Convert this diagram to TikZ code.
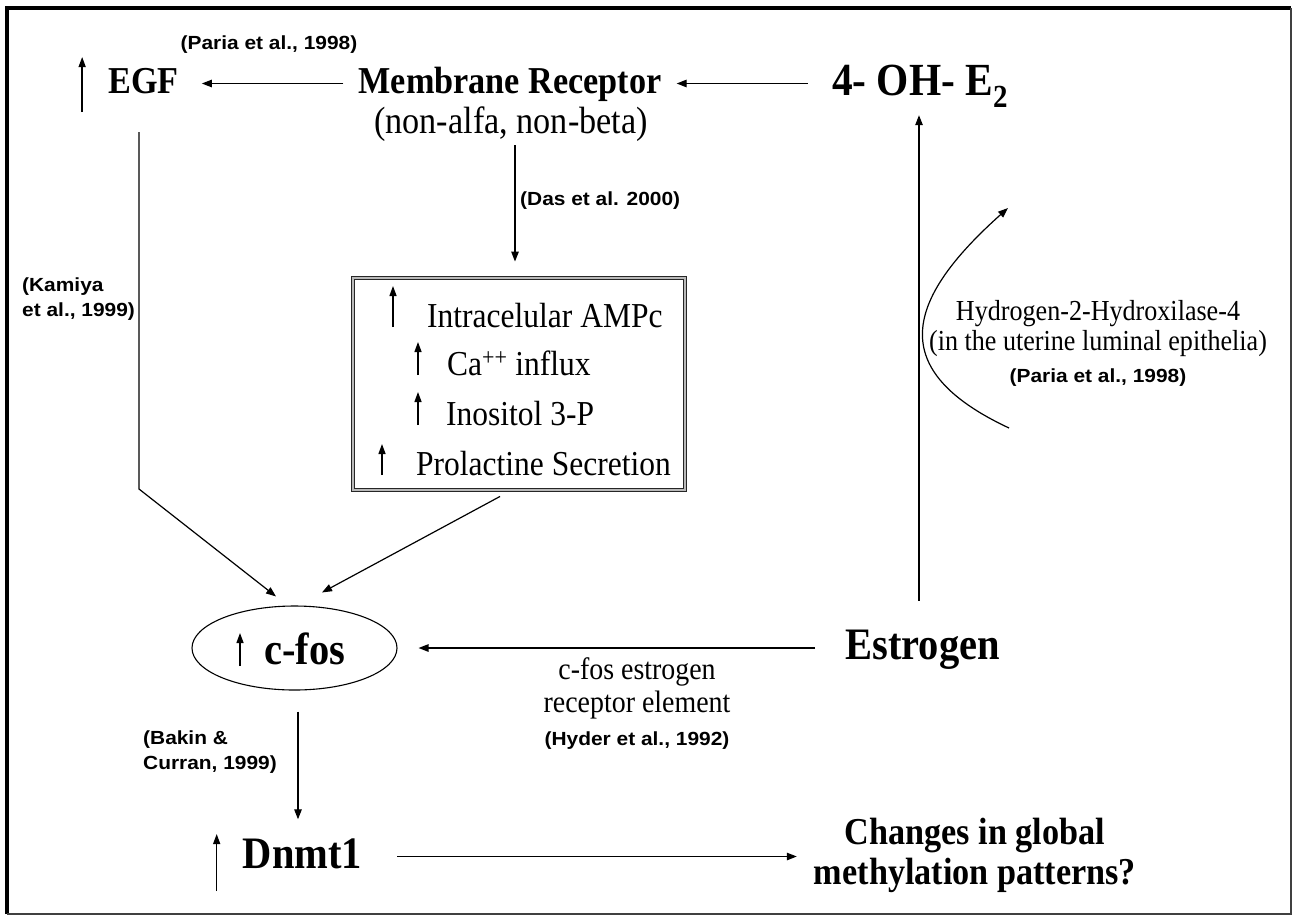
\documentclass[tikz,border=0pt]{standalone}
\usepackage{fontspec}
\setmainfont{Liberation Serif}[FakeStretch=0.9]
\newfontfamily\citefont{Liberation Sans}[FakeStretch=1.1]
\usetikzlibrary{arrows.meta, shapes.geometric, calc, positioning}

\begin{document}
\begin{tikzpicture}[x=1pt, y=-1pt,
		conn/.style={line width=1.2pt, -{Triangle[length=10pt, width=7.5pt]}},
		uparr/.style={line width=1.3pt, -{Triangle[length=10pt, width=7pt]}},
		cite/.style={inner sep=0pt, font=\citefont\bfseries\fontsize{19}{25}\selectfont},
		head/.style={inner sep=0pt, text height=27pt, text depth=8pt, font=\bfseries\fontsize{38}{40}\selectfont},
		sub/.style={inner sep=0pt, text height=27pt, text depth=8pt, font=\fontsize{38}{40}\selectfont},
		big/.style={inner sep=0pt, text height=32pt, text depth=9pt, font=\bfseries\fontsize{45}{48}\selectfont},
		boxtxt/.style={inner sep=0pt, font=\fontsize{35}{40}\selectfont},
		lbl/.style={inner sep=0pt, font=\fontsize{31}{33}\selectfont},
		boxed/.style={draw=black!85, double=gray!55, double distance=2.2pt, line width=0.9pt}]
			\useasboundingbox (0,0) rectangle (1292,916);

			% frame
			\draw[line width=4pt] (7,914) -- (7,8) -- (1291,8);
			\draw[line width=1.5pt, black!75] (7,914) -- (1291,914) -- (1291,8);

			\begin{scope}
				\node[head, anchor=base] (egf) at (143.5,93) {EGF};
				\node[head, anchor=base] (mr) at (510,93) {Membrane Receptor};
				\node[sub, anchor=base] (nab) at (511,133) {(non-alfa, non-beta)};
				\node[big, font=\bfseries\fontsize{46}{48}\selectfont, anchor=base] (oh) at (920,95) {4- OH- E\textsubscript{2}};
				\node[cite, anchor=base] (pariaA) at (269,49) {(Paria et al., 1998)};
				\draw[uparr] ([xshift=-26,yshift=-19]egf.base west) -- ++(0,-55);
			\end{scope}

			\begin{scope}
				\node[boxed, minimum width=332, minimum height=212] (box) at (519,384) {};
				\node[boxtxt, anchor=base west] (amp) at (427,327) {Intracelular AMPc};
				\node[boxtxt, anchor=base west] (ca) at (447,375) {Ca\textsuperscript{++} influx};
				\node[boxtxt, anchor=base west] (ino) at (446,425) {Inositol 3-P};
				\node[boxtxt, anchor=base west] (prl) at (416,475) {Prolactine Secretion};

				\draw[uparr] ([xshift=-34]amp.base west) -- ++(0,-41);
				\draw[uparr] ([xshift=-29]ca.base west) -- ++(0,-33);
				\draw[uparr] ([xshift=-28]ino.base west) -- ++(0,-33);
				\draw[uparr] ([xshift=-34]prl.base west) -- ++(0,-31);
			\end{scope}

			\begin{scope}
				\node[cite, anchor=base west] (das) at (520,205) {(Das et al. 2000)};
				\node[cite, anchor=north west, align=left] (kam) at (22,278) {(Kamiya\\et al., 1999)};
				\node[cite, anchor=north west, align=left] (bak) at (143,730.5) {(Bakin \&\\Curran, 1999)};
				\node[cite, anchor=base] (hyder) at (637,745) {(Hyder et al., 1992)};
				\node[cite, anchor=base] (pariaB) at (1098,382) {(Paria et al., 1998)};
				\node[lbl, anchor=north, align=center] (erl) at (637,657) {c-fos estrogen\\receptor element};
				\node[lbl, font=\fontsize{29}{30}\selectfont, anchor=north, align=center] (hyd) at (1098,300) {Hydrogen-2-Hydroxilase-4\\(in the uterine luminal epithelia)};
			\end{scope}

			\begin{scope}
				\node[draw, ellipse, line width=1.1pt, minimum width=205, minimum height=84, inner sep=0pt] (cfos) at (294.5,648) {};
				\node[big, anchor=base west] (cfostxt) at (264,664) {c-fos};
				\draw[uparr] ([xshift=-24,yshift=-2]cfostxt.base west) -- ++(0,-33);

				\node[big, anchor=base] (estr) at (922.5,659.5) {Estrogen};
				\node[big, anchor=base] (dnmt) at (302.5,868) {Dnmt1};
				\draw[uparr] ([xshift=-26,yshift=-23]dnmt.base west) -- ++(0,-57);
				\node[font=\bfseries\fontsize{38}{40}\selectfont, inner sep=0pt, anchor=north, align=center] (chg) at (975,818) {Changes in global\\methylation patterns?};
			\end{scope}

			\begin{scope}[conn]
				\coordinate (egfbend) at (139,489);
				\coordinate (hydA) at (1009,428);
				\coordinate (hydB) at (1008,208);

				\draw ([xshift=-15]mr.west) -- ([xshift=23]egf.east);
				\draw ([xshift=-24]oh.west) -- ([xshift=15]mr.east);
				\draw ([xshift=-3.5,yshift=26.5]estr.north) -- ([xshift=-1,yshift=-11]oh.south);
				\draw ([xshift=4,yshift=-4]nab.south) -- ([xshift=-4,yshift=16]box.north);
				\draw ([xshift=-4.5,yshift=-31]egf.south) -- (egfbend) -- ([xshift=-18.5,yshift=9]cfos.north);
				\draw ([xshift=-19,yshift=-6]box.south) -- ([xshift=27.5,yshift=13]cfos.north);
				\draw ([xshift=-30]estr.west) -- ($(estr.west -| cfos.east)+(21,0)$);
				\draw ([xshift=3.5,yshift=-21]cfos.south) -- ([xshift=-4.5,yshift=16.5]dnmt.north);
				\draw ([xshift=35]dnmt.east) -- ($(dnmt.east -| chg.west)+(-17,0)$);
				\draw (hydA) .. controls (885,370) and (905,300) .. (hydB);
			\end{scope}
		\end{tikzpicture}
\end{document}
